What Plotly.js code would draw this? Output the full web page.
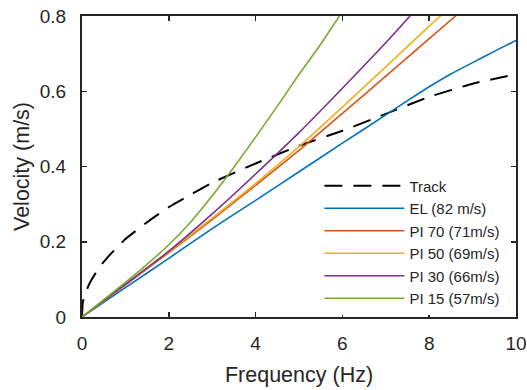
<!DOCTYPE html>
<html>
<head>
<meta charset="utf-8">
<script src="https://cdn.plot.ly/plotly-3.0.1.min.js"></script>
<style>html,body{margin:0;padding:0;background:#fff;}#chart{width:527px;height:390px;}</style>
</head>
<body>
<div id="chart"></div>
<script>
// Track (dashed)
const trackX = [0, 0.02, 0.1, 0.2, 0.4, 0.6, 1, 1.5, 2, 2.5, 3, 4, 5, 6, 7, 8, 9, 10];
const trackY = [0, 0.04, 0.07, 0.095, 0.132, 0.16, 0.207, 0.252, 0.292, 0.325, 0.357, 0.408, 0.455, 0.495, 0.54, 0.585, 0.62, 0.645];
// EL (82 m/s)
const elX = [0, 1, 2, 3, 4, 5, 6, 7, 7.5, 8, 8.5, 9, 9.5, 10];
const elY = [0, 0.078, 0.156, 0.235, 0.31, 0.386, 0.462, 0.537, 0.575, 0.612, 0.646, 0.676, 0.706, 0.735];
// PI 70 (71m/s)
const pi70X = [0, 1, 2, 3, 4, 5, 6, 7, 8, 8.61];
const pi70Y = [0, 0.085, 0.171, 0.259, 0.35, 0.443, 0.541, 0.64, 0.74, 0.8];
// PI 50 (69m/s)
const pi50X = [0, 1, 2, 3, 4, 5, 6, 7, 8, 8.26];
const pi50Y = [0, 0.086, 0.174, 0.263, 0.355, 0.453, 0.558, 0.665, 0.773, 0.8];
// PI 30 (66m/s)
const pi30X = [0, 1, 2, 3, 4, 5, 6, 7, 7.56];
const pi30Y = [0, 0.087, 0.175, 0.274, 0.38, 0.49, 0.608, 0.729, 0.8];
// PI 15 (57m/s)
const pi15X = [0, 1, 1.5, 2, 2.5, 3, 3.5, 4, 4.6, 5, 5.5, 5.93];
const pi15Y = [0, 0.092, 0.14, 0.192, 0.252, 0.322, 0.398, 0.478, 0.577, 0.645, 0.725, 0.8];

const names = ['Track', 'EL (82 m/s)', 'PI 70 (71m/s)', 'PI 50 (69m/s)', 'PI 30 (66m/s)', 'PI 15 (57m/s)'];
const xTicks = [0, 2, 4, 6, 8, 10];
const yTicks = [0, 0.2, 0.4, 0.6, 0.8];
const yTickText = ['0', '0.2', '0.4', '0.6', '0.8'];

const colors = ['#000000', '#0072BD', '#D95319', '#EDB120', '#7E2F8E', '#77AC30'];
const xs = [trackX, elX, pi70X, pi50X, pi30X, pi15X];
const ys = [trackY, elY, pi70Y, pi50Y, pi30Y, pi15Y];

const traces = xs.map((x, i) => ({
  x: x, y: ys[i], name: names[i], type: 'scatter', mode: 'lines',
  line: {color: colors[i], width: i === 0 ? 2 : 1.6, dash: i === 0 ? '18px,11px' : 'solid', shape: 'spline', smoothing: 0.5}
}));

const fontFam = '"Liberation Sans", Arial, sans-serif';
const axCol = '#262626';
const layout = {
  width: 527, height: 390,
  margin: {l: 82, r: 11, t: 16, b: 73},
  paper_bgcolor: '#fff', plot_bgcolor: '#fff',
  font: {family: fontFam, size: 19, color: axCol},
  showlegend: true,
  legend: {
    x: 0.547, y: 0.49, xanchor: 'left', yanchor: 'top',
    bgcolor: '#ffffff', borderwidth: 0,
    font: {family: fontFam, size: 15, color: axCol},
    itemwidth: 80, tracegroupgap: 0
  },
  xaxis: {
    range: [0, 10], tickvals: xTicks, ticktext: xTicks.map(String),
    ticks: 'inside', ticklen: 5, tickwidth: 1.5, tickcolor: axCol,
    showline: true, linewidth: 2, linecolor: axCol, mirror: 'ticks',
    showgrid: false, zeroline: false, ticklabelstandoff: 8,
    tickfont: {size: 19, color: axCol},
    title: {text: 'Frequency (Hz)', font: {size: 21.5, color: axCol}, standoff: 14}
  },
  yaxis: {
    range: [0, 0.8], tickvals: yTicks, ticktext: yTickText,
    ticks: 'inside', ticklen: 5, tickwidth: 1.5, tickcolor: axCol,
    showline: true, linewidth: 2, linecolor: axCol, mirror: 'ticks',
    showgrid: false, zeroline: false, ticklabelstandoff: 10,
    tickfont: {size: 19, color: axCol},
    title: {text: 'Velocity (m/s)', font: {size: 21.5, color: axCol}, standoff: 4}
  }
};

Plotly.newPlot('chart', traces, layout, {displayModeBar: false, staticPlot: true});
</script>
</body>
</html>
